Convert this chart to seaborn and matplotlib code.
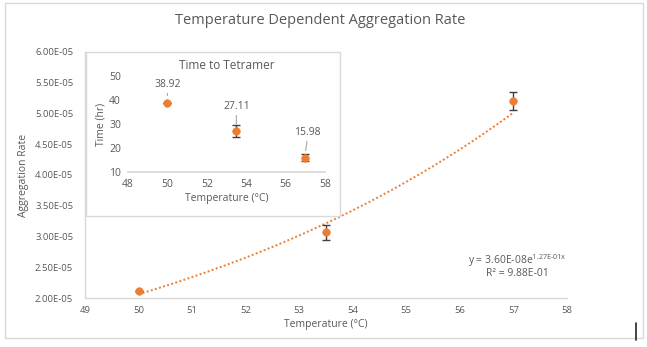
import numpy as np
import pandas as pd
import matplotlib
matplotlib.use("Agg")
import matplotlib.pyplot as plt
from matplotlib.patches import Rectangle
import seaborn as sns

# ---- data ----
temps = [50.0, 53.5, 57.0]
agg_rate = [2.12e-05, 3.07e-05, 5.20e-05]
agg_err = [0.0, 0.12e-05, 0.15e-05]
fit_a = 3.60e-08
fit_b = 0.127
tetramer_time = [38.92, 27.11, 15.98]
tetramer_err = [0.0, 2.6, 1.6]
tetramer_labels = ["38.92", "27.11", "15.98"]
main_xticks = list(range(49, 59))
main_yticks = [2.0e-05, 2.5e-05, 3.0e-05, 3.5e-05, 4.0e-05, 4.5e-05, 5.0e-05, 5.5e-05, 6.0e-05]
inset_xticks = [48, 50, 52, 54, 56, 58]
inset_yticks = [10, 20, 30, 40, 50]

sns.set_theme(style="white")
plt.rcParams['font.family'] = ['Open Sans', 'DejaVu Sans']
plt.rcParams['mathtext.fontset'] = 'custom'
plt.rcParams['mathtext.rm'] = 'Open Sans'
plt.rcParams['mathtext.it'] = 'Open Sans'

ORANGE = "#ED7D31"
GRAY = "#595959"
LINE = "#D9D9D9"

fig = plt.figure(figsize=(6.47, 3.47), dpi=100)
fig.patch.set_facecolor("white")

# outer border
fig.add_artist(Rectangle((5/647, 1-338/347), 638/647, 335/347, transform=fig.transFigure,
                         fill=False, edgecolor=LINE, linewidth=1.0, zorder=0))

ax = fig.add_axes([85/647, 1-298/347, 482/647, 246/347])
df = pd.DataFrame({"Temperature": temps, "Rate": agg_rate})
xs = np.linspace(temps[0], temps[-1], 200)
trend = pd.DataFrame({"x": xs, "y": fit_a * np.exp(fit_b * xs)})
sns.lineplot(data=trend, x="x", y="y", ax=ax, color=ORANGE, linestyle=(0, (1, 1.2)), linewidth=1.4)
ax.errorbar(temps, agg_rate, yerr=agg_err, fmt="none", ecolor="#404040", elinewidth=1.0, capsize=3, zorder=3)
sns.scatterplot(data=df, x="Temperature", y="Rate", ax=ax, color=ORANGE, s=30, edgecolor=ORANGE, zorder=4)

ax.set_xlim(49, 58)
ax.set_ylim(2.0e-05, 6.0e-05)
ax.set_xticks(main_xticks)
ax.set_yticks(main_yticks)
ax.set_yticklabels(["{:.2E}".format(v) for v in main_yticks])
ax.tick_params(axis="y", labelsize=6.8, colors=GRAY, length=0, pad=8.5)
ax.tick_params(axis="x", labelsize=6.8, colors=GRAY, length=0, pad=6)
ax.set_xlabel("Temperature (°C)", fontsize=7.5, color=GRAY, labelpad=3)
ax.set_ylabel("Aggregation Rate", fontsize=7.5, color=GRAY, labelpad=4)
for s in ["top", "right"]:
    ax.spines[s].set_visible(False)
for s in ["left", "bottom"]:
    ax.spines[s].set_color(LINE)
    ax.spines[s].set_linewidth(1.0)

fig.text(320/647, 1-20/347, "Temperature Dependent Aggregation Rate", ha="center", va="center",
         fontsize=10.5, color=GRAY)
fig.text(517/647, 1-261/347, r"y = 3.60E-08e$^{\mathrm{1.27E\text{-}01x}}$", ha="center", va="center",
         fontsize=7.5, color=GRAY)
fig.text(517/647, 1-274/347, r"R² = 9.88E-01", ha="center", va="center", fontsize=7.5, color=GRAY)

# inset box
fig.add_artist(Rectangle((86/647, 1-216/347), 254/647, 164/347, transform=fig.transFigure,
                         facecolor="white", edgecolor=LINE, linewidth=1.0, zorder=0.5))

ia = fig.add_axes([128/647, 1-172/347, 197/647, 96/347], zorder=1)
ia.patch.set_alpha(0)
idf = pd.DataFrame({"Temperature": temps, "Time": tetramer_time})
ia.errorbar(temps, tetramer_time, yerr=tetramer_err, fmt="none", ecolor="#404040", elinewidth=1.0, capsize=3, zorder=3)
sns.scatterplot(data=idf, x="Temperature", y="Time", ax=ia, color=ORANGE, s=30, edgecolor=ORANGE, zorder=4)
ia.set_xlim(48, 58)
ia.set_ylim(10, 50)
ia.set_xticks(inset_xticks)
ia.set_yticks(inset_yticks)
ia.tick_params(labelsize=7.5, colors=GRAY, length=0, pad=5)
ia.set_xlabel("Temperature (°C)", fontsize=7.5, color=GRAY, labelpad=2)
ia.set_ylabel("Time (hr)", fontsize=7.5, color=GRAY, labelpad=2)
ia.set_title("Time to Tetramer", fontsize=8.5, color=GRAY, pad=5)
for s in ["top", "right", "left"]:
    ia.spines[s].set_visible(False)
ia.spines["bottom"].set_color(LINE)

label_pos = [(50.0, 46.3), (53.5, 37.1), (57.1, 26.3)]
for (lx, ly), t, x, y in zip(label_pos, tetramer_labels, temps, tetramer_time):
    ia.text(lx, ly, t, ha="center", va="center", fontsize=7.5, color=GRAY)
    ia.annotate("", xy=(x, y + 1.8), xytext=(lx, ly - 2.4),
                arrowprops=dict(arrowstyle="-", color="#A6A6A6", lw=0.8))

# small dark mark bottom right
fig.add_artist(plt.Line2D([636/647, 636/647], [1-340/347, 1-323/347], transform=fig.transFigure,
                          color="#262626", linewidth=1.2))

fig.savefig("out.png", dpi=100)
